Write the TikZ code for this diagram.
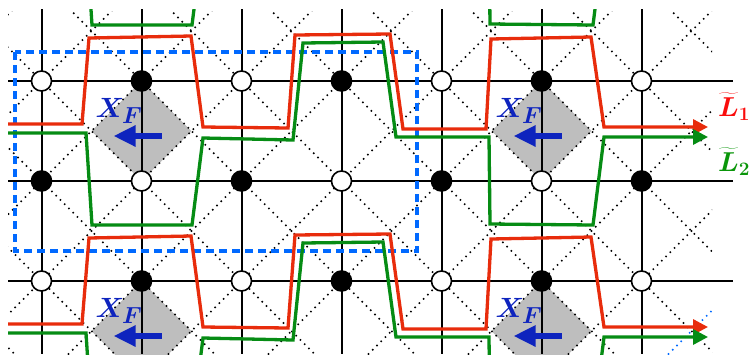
\documentclass[tikz,border=0pt]{standalone}
\usepackage{bm}
\usetikzlibrary{arrows.meta}

\definecolor{curvered}{RGB}{232,44,12}
\definecolor{curvegreen}{RGB}{6,140,20}
\definecolor{labelred}{RGB}{250,12,12}
\definecolor{labelgreen}{RGB}{10,150,10}
\definecolor{fieldblue}{RGB}{14,36,190}
\definecolor{boxblue}{RGB}{0,105,255}
\definecolor{plaq}{RGB}{190,190,190}

\begin{document}
\begin{tikzpicture}[x=1pt,y=-1pt,
  gridline/.style={line width=2pt,black},
  diagline/.style={line width=1.6pt,dash pattern=on 1.5pt off 4.5pt,black},
  wsite/.style={circle,draw=black,fill=white,line width=1.6pt,minimum size=20pt,inner sep=0pt},
  bsite/.style={circle,draw=black,fill=black,line width=1.6pt,minimum size=20pt,inner sep=0pt},
  redline/.style={curvered,line width=3.3pt,line join=miter},
  greenline/.style={curvegreen,line width=3.3pt,line join=miter},
  tipped/.style={-{Triangle[length=15pt,width=15pt]}},
  cellbox/.style={boxblue,line width=3.4pt,dash pattern=on 8pt off 5pt},
  fieldarrow/.style={fieldblue,line width=5.5pt,-{Triangle[length=22pt,width=20pt]}},
  fieldlabel/.style={fieldblue,inner sep=0pt,anchor=base west,font=\Huge},
  wlabel/.style={inner sep=0pt,anchor=base west,font=\huge}]

\useasboundingbox (0,0) rectangle (751,354);

% shaded plaquettes
\foreach \cx/\cy in {141.5/131,541.5/131,141.5/331,541.5/331}
  \fill[plaq] (\cx,\cy-50) -- (\cx+50,\cy) -- (\cx,\cy+50) -- (\cx-50,\cy) -- cycle;

% dotted diagonals through the lattice sites
\begin{scope}
  \clip (8,11) rectangle (712,354);
  \foreach \k in {-1,...,8}
    \draw[diagline] ({122.5+100*\k-380},380) -- ({122.5+100*\k},0);
  \draw[diagline,boxblue] ({1022.5-380},380) -- (1022.5,0);
  \foreach \k in {-3,...,7}
    \draw[diagline] ({-39.5+100*\k},0) -- ({-39.5+100*\k+380},380);
\end{scope}

% square lattice
\foreach \i in {0,...,6}
  \draw[gridline] (41.5+100*\i,9) -- (41.5+100*\i,354);
\foreach \j in {0,1,2}
  \draw[gridline] (8,81+100*\j) -- (733,81+100*\j);

% sites, alternating open and filled
\foreach \i in {0,...,6}
  \foreach \j in {0,1,2}{
    \pgfmathtruncatemacro\sitepar{mod(\i+\j,2)}
    \ifnum\sitepar=0
      \node[wsite] (s-\i-\j) at (41.5+100*\i,81+100*\j) {};
    \else
      \node[bsite] (s-\i-\j) at (41.5+100*\i,81+100*\j) {};
    \fi
  }

% unit cell
\draw[cellbox] (15,52) rectangle (417,251);

% the two lines, repeated with period 200
\begin{scope}
  \clip (0,9) rectangle (751,354);
  \foreach \dy in {0,200}
    \draw[redline,tipped,shift={(0,\dy)}]
      (8,124) -- (82,124) -- (89,38) -- (191,36) -- (203,127) -- (288,128)
      -- (295,35) -- (390,34) -- (403,129) -- (486,129) -- (491,39)
      -- (591,37) -- (604,127) -- (708,127);
  \foreach \dy in {-200,0,200}
    \draw[greenline,tipped,shift={(0,\dy)}]
      (8,133) -- (86,133) -- (92,225) -- (192,225) -- (203,138) -- (293,140)
      -- (303,43) -- (383,42) -- (396,137) -- (489,137) -- (490,224)
      -- (593,225) -- (604,137) -- (708,137);
\end{scope}

% field arrows with labels
\foreach \cx/\cy/\n in {141.5/131/a,541.5/131/b,141.5/331/c,541.5/331/d}{
  \coordinate (f\n-tail) at (\cx+20,\cy+5);
  \coordinate (f\n-head) at (\cx-28,\cy+5);
  \draw[fieldarrow] (f\n-tail) -- (f\n-head);
  \node[fieldlabel] (xf-\n) at (\cx-46,\cy-14) {\scalebox{1.12}{$\bm{X}_{\bm{F}}$}};
}

% line labels
\node[wlabel,text=labelred] (lab1) at (718,116) {\scalebox{1.32}{$\widetilde{\bm{L}}_{\bm{1}}$}};
\node[wlabel,text=labelgreen] (lab2) at (718,171) {\scalebox{1.32}{$\widetilde{\bm{L}}_{\bm{2}}$}};
\end{tikzpicture}
\end{document}
